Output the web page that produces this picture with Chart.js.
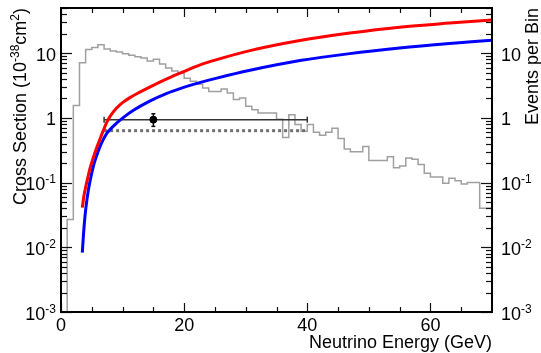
<!DOCTYPE html>
<html><head><meta charset="utf-8">
<script src="https://cdn.jsdelivr.net/npm/chart.js@4.4.1/dist/chart.umd.min.js"></script>
<style>html,body{margin:0;padding:0;background:#fff}</style>
</head><body>
<canvas id="c" width="541" height="353" style="display:block"></canvas>
<script>
// ---------- data ----------
const binEdges = [0,1,2,3,4,5,6,7,8,9,10,11,12,13,14,15,16,17,18,19,20,21,22,23,24,25,26,27,28,29,30,31,32,33,34,35,36,37,38,39,40,41,42,43,44,45,46,47,48,49,50,51,52,53,54,55,56,57,58,59,60,61,62,63,64,65,66,67,68,69,70];
const eventsPerBin = [0,0,0.027,1.55,7.1,11.4,12.3,13.5,11.6,10.8,10.4,9.8,9.3,8.8,8.4,7.6,8.1,6.8,5.9,5.3,4.9,4.1,3.7,3.3,2.9,2.55,2.55,2.8,2.43,1.92,2.04,1.51,1.34,1.19,1.19,1.19,0.95,0.5,1.12,0.79,0.62,0.79,0.6,0.54,0.6,0.69,0.48,0.33,0.3,0.3,0.36,0.22,0.22,0.22,0.25,0.17,0.18,0.24,0.23,0.19,0.14,0.122,0.122,0.098,0.117,0.107,0.095,0.1,0.1,0.04];

const nuTauEnergy = [3.46,3.73,4.17,4.70,5.24,5.79,6.33,6.86,7.41,7.95,9.03,10.1,11.2,12.8,14.4,17.1,19.8,22.5,25.3,30.7,38.8,46.9,55,63.1,70];
const nuTauXsec   = [0.041,0.063,0.100,0.164,0.243,0.347,0.470,0.636,0.846,1.047,1.42,1.75,2.06,2.50,2.99,3.98,5.14,6.55,7.96,10.97,15.7,20.5,25.3,29.2,32.5];

const antiNuTauEnergy = [3.46,3.65,3.89,4.17,4.43,4.70,5.24,5.79,6.33,6.86,7.41,7.95,9.03,10.1,11.7,14.4,17.1,19.8,22.5,25.3,30.7,38.8,46.9,55,63.1,70];
const antiNuTauXsec   = [0.0083,0.0157,0.0298,0.0508,0.0752,0.1036,0.177,0.261,0.360,0.462,0.572,0.659,0.831,1.01,1.30,1.82,2.38,2.94,3.51,4.12,5.44,7.69,9.86,12.0,14.1,15.9];

const measEnergy = 15;
const measXsec = 0.94;
const measXsecErr = [0.74, 1.16];
const measEnergyRange = [7, 40];
const dottedXsec = 0.635;

const xTickValues = [0, 20, 40, 60];
const xTickLabels = ['0', '20', '40', '60'];
const xMinorTicks = [5,10,15,25,30,35,45,50,55,65];
const yTickValues = [0.001, 0.01, 0.1, 1, 10];
const yTickLabels = ['10⁻³', '10⁻²', '10⁻¹', '1', '10'];
const yMin = 0.001, yMax = 50;
const xTitle = 'Neutrino Energy (GeV)';
const yTitle = 'Cross Section (10⁻³⁸cm²)';
const y2Title = 'Events per Bin';

// ---------- build datasets ----------
const histPoints = binEdges.map((e, i) => {
  const v = eventsPerBin[Math.min(i, eventsPerBin.length - 1)];
  return {x: e, y: v > 0 ? v : yMin};
});
const redPts = nuTauEnergy.map((e, i) => ({x: e, y: nuTauXsec[i]}));
const bluePts = antiNuTauEnergy.map((e, i) => ({x: e, y: antiNuTauXsec[i]}));

const FONT = '"Liberation Sans", Arial, Helvetica, sans-serif';
const SUP = {'⁻':'-','⁰':'0','¹':'1','²':'2','³':'3','⁴':'4','⁵':'5','⁶':'6','⁷':'7','⁸':'8','⁹':'9'};
function runs(str){
  const out=[]; for (const ch of str){ const s = ch in SUP; const c = s ? SUP[ch] : ch;
    if (out.length && out[out.length-1].sup===s) out[out.length-1].t+=c; else out.push({t:c,sup:s}); }
  return out;
}
function drawRich(ctx, str, x, y, align, size){
  const r = runs(str); const ss = Math.round(size*0.68);
  let w=0; for (const p of r){ ctx.font = (p.sup?ss:size)+'px '+FONT; p.w = ctx.measureText(p.t).width; w+=p.w; }
  let cx = align==='right' ? x-w : align==='center' ? x-w/2 : x;
  ctx.textAlign='left'; ctx.textBaseline='alphabetic';
  for (const p of r){ ctx.font=(p.sup?ss:size)+'px '+FONT; ctx.fillText(p.t, cx, p.sup ? y-size*0.38 : y); cx+=p.w; }
}

const axisPlugin = {
  id: 'axisPlugin',
  beforeDraw(chart){ const c=chart.ctx; c.save(); c.fillStyle='#fff'; c.fillRect(0,0,chart.width,chart.height); c.restore(); },
  afterDatasetsDraw(chart){
    const {ctx, chartArea:a, scales:{x, y}} = chart;
    ctx.save();
    ctx.strokeStyle = '#111'; ctx.lineWidth = 1.2;
    const hl = (x1, yy, x2) => { ctx.beginPath(); ctx.moveTo(x1, yy); ctx.lineTo(x2, yy); ctx.stroke(); };
    const vl = (xx, y1, y2) => { ctx.beginPath(); ctx.moveTo(xx, y1); ctx.lineTo(xx, y2); ctx.stroke(); };
    for (let k = Math.log10(yMin); k <= Math.log10(yMax); k++){
      for (let m = 1; m <= 9; m++){
        const v = m*Math.pow(10,k); if (v > yMax) break;
        const py = Math.round(y.getPixelForValue(v)) + 0.5;
        const L = m===1 ? 11 : 6;
        hl(a.left, py, a.left+L); hl(a.right, py, a.right-L);
      }
    }
    for (const v of xTickValues){ const px = Math.round(x.getPixelForValue(v))+0.5; vl(px, a.bottom, a.bottom-9); vl(px, a.top, a.top+9); }
    for (const v of xMinorTicks){ const px = Math.round(x.getPixelForValue(v))+0.5; vl(px, a.bottom, a.bottom-5); vl(px, a.top, a.top+5); }
    ctx.strokeStyle = '#000'; ctx.lineWidth = 2;
    ctx.strokeRect(a.left, a.top, a.right-a.left, a.bottom-a.top);
    ctx.fillStyle = '#000';
    yTickValues.forEach((v, i) => {
      const py = y.getPixelForValue(v);
      drawRich(ctx, yTickLabels[i], a.left-5, py+7.5, 'right', 18);
      drawRich(ctx, yTickLabels[i], a.right+9, py+7.5, 'left', 18);
    });
    xTickValues.forEach((v, i) => { drawRich(ctx, xTickLabels[i], x.getPixelForValue(v), a.bottom+19, 'center', 18); });
    drawRich(ctx, xTitle, a.right, chart.height-5, 'right', 18);
    ctx.save(); ctx.translate(26, a.top); ctx.rotate(-Math.PI/2); drawRich(ctx, yTitle, 0, 0, 'right', 18); ctx.restore();
    ctx.save(); ctx.translate(538, a.top); ctx.rotate(-Math.PI/2); drawRich(ctx, y2Title, 0, 0, 'right', 18); ctx.restore();
    ctx.restore();
  }
};

new Chart(document.getElementById('c'), {
  type: 'line',
  data: {
    datasets: [
      { label: 'nu_tau CC', data: redPts, borderColor: '#ff0000', borderWidth: 3, pointRadius: 0, cubicInterpolationMode: 'monotone', order: 1 },
      { label: 'anti-nu_tau CC', data: bluePts, borderColor: '#0000ff', borderWidth: 3, pointRadius: 0, cubicInterpolationMode: 'monotone', order: 1 },
      { label: 'measurement range', data: measEnergyRange.map(e => ({x: e, y: measXsec})), borderColor: '#333', borderWidth: 1.5,
        pointStyle: 'line', rotation: 90, pointRadius: 3, pointBorderColor: '#333', pointBorderWidth: 1.5, order: 2 },
      { label: 'measurement error', data: measXsecErr.map(v => ({x: measEnergy, y: v})), borderColor: '#111', borderWidth: 1.5,
        pointStyle: 'line', pointRadius: 2, pointBorderColor: '#111', pointBorderWidth: 1.5, order: 2 },
      { label: 'measurement', data: [{x: measEnergy, y: measXsec}], showLine: false, pointRadius: 3.5, pointBackgroundColor: '#000', pointBorderColor: '#000', order: 0 },
      { label: 'expectation', data: measEnergyRange.map(e => ({x: e, y: dottedXsec})), borderColor: '#707070', borderWidth: 3, borderDash: [3, 3], pointRadius: 0, order: 3 },
      { label: 'events', data: histPoints, borderColor: '#a0a0a0', borderWidth: 1.5, pointRadius: 0, stepped: 'after', order: 5 }
    ]
  },
  options: {
    responsive: false, animation: false, devicePixelRatio: 1,
    layout: { padding: { left: 61, right: 49, top: 8, bottom: 41 } },
    plugins: { legend: { display: false }, tooltip: { enabled: false } },
    scales: {
      x: { type: 'linear', min: 0, max: 70, display: false },
      y: { type: 'logarithmic', min: yMin, max: yMax, display: false }
    }
  },
  plugins: [axisPlugin]
});
</script>
</body></html>
